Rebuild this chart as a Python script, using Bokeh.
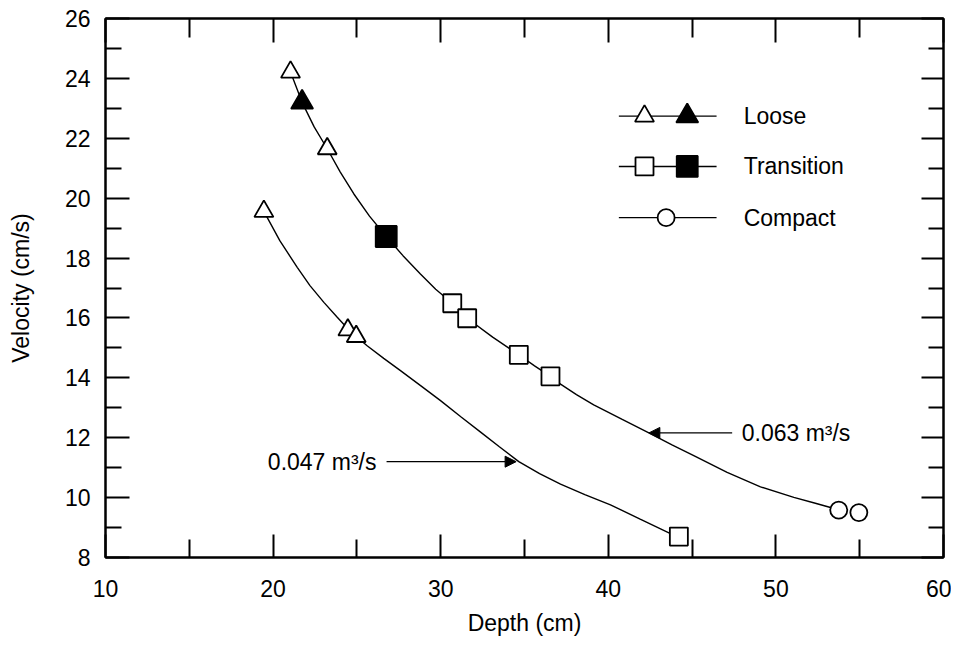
from bokeh.plotting import figure
from bokeh.models import (LinearAxis, Range1d, Arrow, NormalHead, FixedTicker,
                          CustomJSTickFormatter)
from bokeh.core.properties import value
from bokeh.embed import file_html
from bokeh.resources import INLINE

# ---------------- data ----------------
x_ticks = [10, 20, 30, 40, 50, 60]
x_minor = [15, 25, 35, 45, 55]
y_ticks = [8, 10, 12, 14, 16, 18, 20, 22, 24, 26]
y_minor = [9, 11, 13, 15, 17, 19, 21, 23, 25]

# fitted curve for Q = 0.063 m3/s
upper_curve_depth = [21.04, 21.73, 22.45, 23.23, 24.0, 24.82, 25.75, 26.75, 27.75, 28.79,
                     29.7, 30.69, 31.58, 33.1, 34.66, 35.6, 36.55, 37.15, 38.1, 39.13,
                     40.8, 42.42, 43.8, 45.10, 47.09, 49.08, 51.07, 52.3, 53.26, 53.75]
upper_curve_vel = [24.21, 23.20, 22.38, 21.65, 20.88, 20.14, 19.40, 18.72, 18.08, 17.47,
                   16.96, 16.49, 15.99, 15.36, 14.77, 14.40, 14.05, 13.79, 13.44, 13.10,
                   12.62, 12.16, 11.76, 11.40, 10.84, 10.36, 10.01, 9.82, 9.67, 9.58]

# fitted curve for Q = 0.047 m3/s
lower_curve_depth = [19.45, 20.4, 21.44, 22.2, 23.03, 23.8, 24.46, 24.96, 25.61, 26.6,
                     27.60, 28.8, 29.99, 31.2, 32.4, 33.5, 34.66, 35.9, 37.15, 38.6,
                     40.13, 41.9, 43.71, 44.21]
lower_curve_vel = [19.56, 18.58, 17.69, 17.08, 16.52, 16.04, 15.64, 15.38, 15.07, 14.65,
                   14.24, 13.74, 13.24, 12.70, 12.18, 11.70, 11.20, 10.80, 10.45, 10.10,
                   9.76, 9.28, 8.80, 8.70]

loose_open_depth = [21.04, 23.23, 19.45, 24.46, 24.96]
loose_open_vel = [24.21, 21.65, 19.56, 15.60, 15.38]
loose_solid_depth = [21.73]
loose_solid_vel = [23.20]

trans_open_depth = [30.69, 31.58, 34.66, 36.55, 44.21]
trans_open_vel = [16.49, 15.99, 14.77, 14.05, 8.70]
trans_solid_depth = [26.75]
trans_solid_vel = [18.72]

compact_depth = [53.75, 54.95]
compact_vel = [9.58, 9.50]

series_names = ["Loose", "Transition", "Compact"]
discharge_labels = ["0.063 m³/s", "0.047 m³/s"]

# ---------------- layout / style constants ----------------
FONT = "Liberation Sans"
FS = "23px"
LEG_LINE_X0, LEG_LINE_X1 = 40.63, 46.46
LEG_OPEN_X, LEG_SOLID_X, LEG_MID_X = 42.16, 44.71, 43.45
LEG_ROW_Y = [22.74, 21.06, 19.35]
LEG_TEXT_X = 48.08

ANN_063 = dict(x_tail=47.39, x_tip=42.42, y=12.16, text_x=47.96)
ANN_047 = dict(x_tail=26.77, x_tip=34.50, y=11.20, text_x=26.17)

p = figure(width=951, height=644, x_range=Range1d(10, 60), y_range=Range1d(8, 26),
           output_backend="svg", toolbar_location=None,
           min_border_left=105, min_border_right=8, min_border_top=18, min_border_bottom=87,
           x_axis_label="Depth (cm)", y_axis_label="Velocity (cm/s)")
p.grid.visible = False
p.outline_line_color = "black"
p.outline_line_width = 2
p.background_fill_color = "white"
p.border_fill_color = "white"


def style_axis(ax, ticks, minor, maj_in, min_in, labels=True):
    ax.ticker = FixedTicker(ticks=ticks, minor_ticks=minor)
    ax.axis_line_color = "black"
    ax.axis_line_width = 2
    ax.major_tick_line_color = "black"
    ax.major_tick_line_width = 2
    ax.minor_tick_line_color = "black"
    ax.minor_tick_line_width = 2
    ax.major_tick_out = 0
    ax.major_tick_in = maj_in
    ax.minor_tick_out = 0
    ax.minor_tick_in = min_in
    if labels:
        ax.major_label_text_font = FONT
        ax.major_label_text_font_size = FS
        ax.major_label_text_color = "black"
        ax.axis_label_text_font = FONT
        ax.axis_label_text_font_size = FS
        ax.axis_label_text_font_style = "normal"
        ax.axis_label_text_color = "black"
    else:
        ax.formatter = CustomJSTickFormatter(code="return ''")
        ax.major_label_text_font_size = "0px"
        ax.major_label_standoff = 0


xb = p.xaxis[0]
style_axis(xb, x_ticks, x_minor, 23, 18)
xb.major_label_standoff = 22
xb.axis_label_standoff = 10

yl = p.yaxis[0]
style_axis(yl, y_ticks, y_minor, 24, 16)
yl.major_label_standoff = 15
yl.axis_label_standoff = 28

top = LinearAxis()
style_axis(top, x_ticks, x_minor, 24, 19, labels=False)
p.add_layout(top, "above")

right = LinearAxis()
style_axis(right, y_ticks, y_minor, 22, 15, labels=False)
p.add_layout(right, "right")

# ---------------- curves ----------------
p.line(upper_curve_depth, upper_curve_vel, line_color="black", line_width=1.4)
p.line(lower_curve_depth, lower_curve_vel, line_color="black", line_width=1.4)

# ---------------- markers ----------------
mk = dict(line_color="black", line_width=1.8)
p.scatter(loose_open_depth, loose_open_vel, marker="triangle", size=19, fill_color="white", **mk)
p.scatter(loose_solid_depth, loose_solid_vel, marker="triangle", size=22, fill_color="black", **mk)
p.scatter(trans_open_depth, trans_open_vel, marker="square", size=18, fill_color="white", **mk)
p.scatter(trans_solid_depth, trans_solid_vel, marker="square", size=21, fill_color="black", **mk)
p.scatter(compact_depth, compact_vel, marker="circle", size=17, fill_color="white", **mk)

# ---------------- legend (drawn by hand) ----------------
p.segment(x0=[LEG_LINE_X0] * 3, y0=LEG_ROW_Y, x1=[LEG_LINE_X1] * 3, y1=LEG_ROW_Y,
          line_color="black", line_width=1.4)
p.scatter([LEG_OPEN_X], [LEG_ROW_Y[0]], marker="triangle", size=19, fill_color="white", **mk)
p.scatter([LEG_SOLID_X], [LEG_ROW_Y[0]], marker="triangle", size=22, fill_color="black", **mk)
p.scatter([LEG_OPEN_X], [LEG_ROW_Y[1]], marker="square", size=18, fill_color="white", **mk)
p.scatter([LEG_SOLID_X], [LEG_ROW_Y[1]], marker="square", size=21, fill_color="black", **mk)
p.scatter([LEG_MID_X], [LEG_ROW_Y[2]], marker="circle", size=17, fill_color="white", **mk)
p.text(x=[LEG_TEXT_X] * 3, y=LEG_ROW_Y, text=series_names,
       text_font=value(FONT), text_font_size=FS, text_color="black",
       text_align="left", text_baseline="middle")

# ---------------- discharge annotations ----------------
for ann in (ANN_063, ANN_047):
    p.add_layout(Arrow(end=NormalHead(size=11, fill_color="black", line_color="black", line_width=1),
                       x_start=ann["x_tail"], y_start=ann["y"], x_end=ann["x_tip"], y_end=ann["y"],
                       line_color="black", line_width=1.2))

p.text(x=[ANN_063["text_x"]], y=[ANN_063["y"]], text=[discharge_labels[0]],
       text_font=value(FONT), text_font_size=FS, text_color="black",
       text_align="left", text_baseline="middle")
p.text(x=[ANN_047["text_x"]], y=[ANN_047["y"]], text=[discharge_labels[1]],
       text_font=value(FONT), text_font_size=FS, text_color="black",
       text_align="right", text_baseline="middle")

open("out.html", "w").write(file_html(p, INLINE))
